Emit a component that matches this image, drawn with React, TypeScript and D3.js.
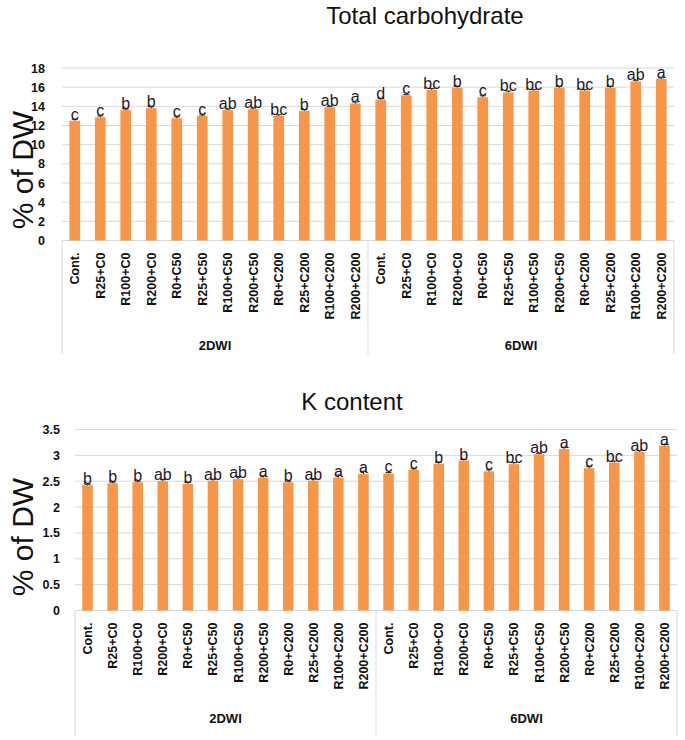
import React from "react";
import * as d3 from "d3";

const categories = [
  "Cont.", "R25+C0", "R100+C0", "R200+C0", "R0+C50", "R25+C50",
  "R100+C50", "R200+C50", "R0+C200", "R25+C200", "R100+C200", "R200+C200",
];
const groups = ["2DWI", "6DWI"];

const carbValues = [
  12.5, 12.85, 13.6, 13.8, 12.75, 13.0, 13.6, 13.7, 13.0, 13.5, 13.9, 14.3,
  14.7, 15.15, 15.7, 15.95, 14.95, 15.45, 15.65, 15.95, 15.65, 15.95, 16.6, 16.85,
];
const carbErrors = [
  0.15, 0.15, 0.12, 0.15, 0.15, 0.1, 0.12, 0.12, 0.12, 0.15, 0.1, 0.15,
  0.1, 0.1, 0.15, 0.15, 0.15, 0.15, 0.12, 0.15, 0.12, 0.12, 0.12, 0.12,
];
const carbLetters = [
  "c", "c", "b", "b", "c", "c", "ab", "ab", "bc", "b", "ab", "a",
  "d", "c", "bc", "b", "c", "bc", "bc", "b", "bc", "b", "ab", "a",
];
const carbTicks = [0, 2, 4, 6, 8, 10, 12, 14, 16, 18];

const kValues = [
  2.42, 2.46, 2.48, 2.5, 2.45, 2.51, 2.54, 2.57, 2.48, 2.51, 2.57, 2.64,
  2.65, 2.72, 2.84, 2.9, 2.69, 2.83, 3.02, 3.12, 2.75, 2.86, 3.07, 3.19,
];
const kErrors = [
  0.02, 0.02, 0.02, 0.03, 0.03, 0.03, 0.05, 0.03, 0.02, 0.04, 0.05, 0.05,
  0.02, 0.02, 0.03, 0.02, 0.03, 0.03, 0.02, 0.03, 0.03, 0.03, 0.02, 0.02,
];
const kLetters = [
  "b", "b", "b", "ab", "b", "ab", "ab", "a", "b", "ab", "a", "a",
  "c", "c", "b", "b", "c", "bc", "ab", "a", "c", "bc", "ab", "a",
];
const kTicks = [0, 0.5, 1, 1.5, 2, 2.5, 3, 3.5];

const ORANGE = "#F79646";
const GRID = "#d9d9d9";
const SANS = "'Liberation Sans', Arial, sans-serif";

type ChartProps = {
  title: string;
  titleX: number;
  titleY: number;
  values: number[];
  errors: number[];
  letters: string[];
  ticks: number[];
  left: number;
  right: number;
  yZero: number;
  yTop: number;
  boxBottom: number;
  yLabelY: number;
  tickRight: number;
  groupY: number;
};

function BarChart(p: ChartProps) {
  const labels = groups.flatMap((g) => categories.map((c) => `${g}|${c}`));
  const x = d3.scaleBand<string>().domain(labels).range([p.left, p.right]).paddingInner(0.58).paddingOuter(0.29);
  const y = d3.scaleLinear().domain([0, p.ticks[p.ticks.length - 1]]).range([p.yZero, p.yTop]);
  const bw = x.bandwidth();
  const step = x.step();
  const mid = (p.left + p.right) / 2;
  return (
    <g>
      <text x={p.titleX} y={p.titleY} textAnchor="middle" fontFamily={SANS} fontSize={24} fill="#111">
        {p.title}
      </text>
      <text
        transform={`translate(33,${p.yLabelY}) rotate(-90)`}
        textAnchor="middle"
        fontFamily={SANS}
        fontSize={30}
        fill="#111"
      >
        % of DW
      </text>
      {p.ticks.map((t) => (
        <g key={t}>
          {t > 0 && <line x1={p.left} x2={p.right} y1={y(t)} y2={y(t)} stroke={GRID} strokeWidth={1} />}
          <text x={p.tickRight} y={y(t) + 4.5} textAnchor="end" fontFamily={SANS} fontSize={12.5} fontWeight="bold" fill="#111">
            {t}
          </text>
        </g>
      ))}
      <line x1={p.left} x2={p.right} y1={p.yZero} y2={p.yZero} stroke={GRID} />
      {[p.left, mid, p.right].map((lx, i) => (
        <line key={i} x1={lx} x2={lx} y1={p.yZero} y2={p.boxBottom} stroke={GRID} />
      ))}
      {labels.map((l, i) => {
        const cx = (x(l) as number) + bw / 2;
        const v = p.values[i];
        const e = p.errors[i];
        return (
          <g key={l}>
            <rect x={x(l)} y={y(v)} width={bw} height={p.yZero - y(v)} fill={ORANGE} />
            <line x1={cx} x2={cx} y1={y(v)} y2={y(v + e)} stroke="#222" strokeWidth={1} />
            <line x1={cx - 3} x2={cx + 3} y1={y(v + e)} y2={y(v + e)} stroke="#222" strokeWidth={1} />
            <text x={cx} y={y(v) - 1} textAnchor="middle" fontFamily={SANS} fontSize={16} fill="#1a1a2a">
              {p.letters[i]}
            </text>
            <text
              transform={`translate(${cx + 4.5},${p.yZero + 12}) rotate(-90)`}
              textAnchor="end"
              fontFamily={SANS}
              fontSize={12.5}
              fontWeight="bold"
              fill="#111"
            >
              {l.split("|")[1]}
            </text>
          </g>
        );
      })}
      {groups.map((g, gi) => (
        <text
          key={g}
          x={p.left + (gi + 0.5) * step * categories.length}
          y={p.groupY}
          textAnchor="middle"
          fontFamily={SANS}
          fontSize={13}
          fontWeight="bold"
          fill="#111"
        >
          {g}
        </text>
      ))}
    </g>
  );
}

export default function App() {
  return (
    <svg width={685} height={740} style={{ position: "absolute", left: 0, top: 0, background: "#fff" }}>
      <rect width={685} height={740} fill="#fff" />
      <BarChart
        title="Total carbohydrate"
        titleX={425}
        titleY={24}
        values={carbValues}
        errors={carbErrors}
        letters={carbLetters}
        ticks={carbTicks}
        left={62}
        right={674}
        yZero={240.5}
        yTop={68}
        boxBottom={354}
        yLabelY={170}
        tickRight={45}
        groupY={350}
      />
      <BarChart
        title="K content"
        titleX={352}
        titleY={410}
        values={kValues}
        errors={kErrors}
        letters={kLetters}
        ticks={kTicks}
        left={75}
        right={677}
        yZero={610.5}
        yTop={429.5}
        boxBottom={736}
        yLabelY={537}
        tickRight={60}
        groupY={723}
      />
    </svg>
  );
}
